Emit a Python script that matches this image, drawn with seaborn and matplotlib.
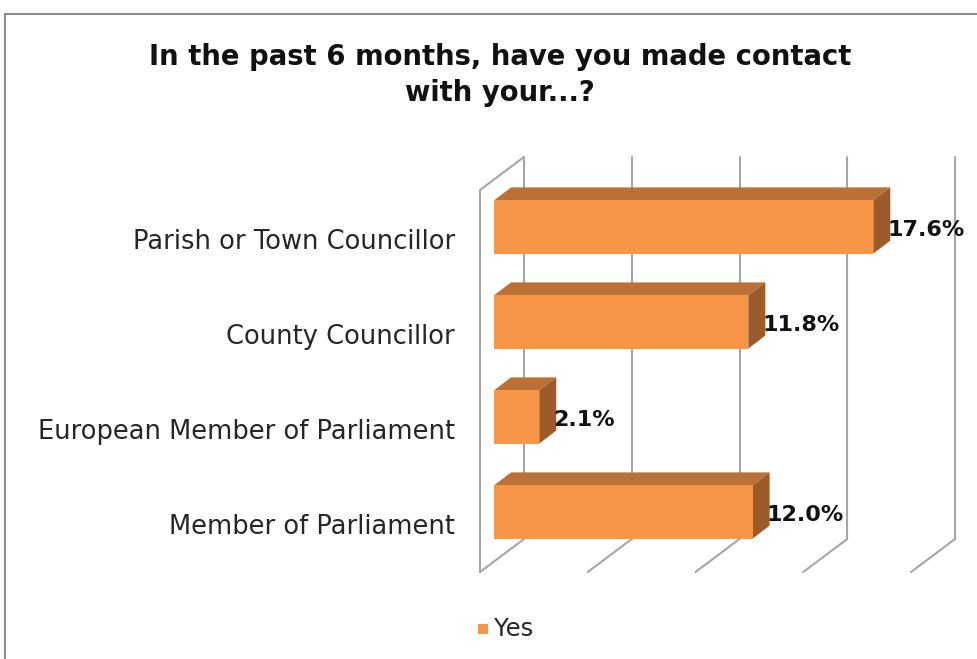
import numpy as np
import pandas as pd
import matplotlib
matplotlib.use("Agg")
import matplotlib.pyplot as plt
from matplotlib.patches import Polygon, Rectangle
from matplotlib.transforms import ScaledTranslation
import seaborn as sns

categories = ["Parish or Town Councillor", "County Councillor",
              "European Member of Parliament", "Member of Parliament"]
values = [17.6, 11.8, 2.1, 12.0]
series_name = "Yes"
title = "In the past 6 months, have you made contact\nwith your...?"
grid_ticks = [0, 5, 10, 15, 20]

sns.set_theme(style="white")
plt.rcParams['font.family'] = ['DejaVu Sans']

W, H, DPI = 977, 659, 100
fig = plt.figure(figsize=(W / DPI, H / DPI), dpi=DPI)

# axes placement (pixels, image coords)
x0_px, px_per_unit = 494, 21.55
yc0_px, step_px = 227, 95
ax_w = px_per_unit * 20
ax_top = yc0_px - step_px / 2
ax_bot = yc0_px + step_px * 3.5
ax = fig.add_axes([x0_px / W, 1 - ax_bot / H, ax_w / W, (ax_bot - ax_top) / H])

def px2d(px, py):
    return (px - x0_px) / px_per_unit, (py - yc0_px) / step_px

FRONT = "#F79646"
TOP = "#BB7035"
SIDE = "#9C5B2B"
GRID = "#A6A6A6"

df = pd.DataFrame({"category": categories, "value": values})
sns.barplot(data=df, x="value", y="category", orient="h", color=FRONT,
            width=0.56, saturation=1, ax=ax, zorder=3, linewidth=0)
ax.set_xlim(0, 20)
ax.set_ylim(3.5, -0.5)

# walls and gridlines (3-D look)
ddx, ddy = 44, -33            # wall depth in pixels
fx0, fy_bot, fy_top = 480, 572, 190
wall_kw = dict(color=GRID, lw=1.5, clip_on=False, zorder=1)
for t in grid_ticks:
    fx = fx0 + t * px_per_unit
    bx, by0 = fx + ddx, fy_bot + ddy
    a = px2d(fx, fy_bot); b = px2d(bx, by0)
    ax.plot([a[0], b[0]], [a[1], b[1]], **wall_kw)
    c = px2d(bx, fy_top + ddy)
    ax.plot([b[0], c[0]], [b[1], c[1]], **wall_kw)
# left side wall
p1 = px2d(fx0, fy_bot); p2 = px2d(fx0, fy_top); p3 = px2d(fx0 + ddx, fy_top + ddy)
ax.plot([p1[0], p2[0], p3[0]], [p1[1], p2[1], p3[1]], **wall_kw)

# 3-D bar top and side faces
bdx, bdy = 17 / px_per_unit, -13 / step_px
for p in ax.patches:
    x, y, w, h = p.get_x(), p.get_y(), p.get_width(), p.get_height()
    ytop, ybot = y, y + h
    top = Polygon([(x, ytop), (x + w, ytop), (x + w + bdx, ytop + bdy), (x + bdx, ytop + bdy)],
                  closed=True, facecolor=TOP, edgecolor="none", zorder=2, clip_on=False)
    side = Polygon([(x + w, ytop), (x + w + bdx, ytop + bdy), (x + w + bdx, ybot + bdy), (x + w, ybot)],
                   closed=True, facecolor=SIDE, edgecolor="none", zorder=2, clip_on=False)
    ax.add_patch(top); ax.add_patch(side)
    p.set_clip_on(False)

# value labels
for i, v in enumerate(values):
    ax.text(v + 14 / px_per_unit, i + 3 / step_px, f"{v:.1f}%", ha="left", va="center",
            fontsize=16, fontweight="bold", color="#111111", zorder=5, clip_on=False)

# category labels
ax.set_ylabel(""); ax.set_xlabel("")
ax.set_xticks([])
ax.tick_params(axis="y", length=0, pad=(x0_px - 455) * 72 / DPI, labelsize=18.5, labelcolor="#262626")
for lbl in ax.get_yticklabels():
    lbl.set_transform(lbl.get_transform() + ScaledTranslation(0, -12 / DPI, fig.dpi_scale_trans))
for s in ax.spines.values():
    s.set_visible(False)
ax.set_facecolor("none")

# title
fig.text(500 / W, 1 - 75 / H, title, ha="center", va="center", fontsize=19.8,
         fontweight="bold", color="#111111", linespacing=1.4)

# legend
fig.patches.append(Rectangle((478 / W, 1 - 634 / H), 10 / W, 10 / H, transform=fig.transFigure,
                             facecolor=FRONT, edgecolor="none"))
fig.text(494 / W, 1 - 629 / H, series_name, ha="left", va="center", fontsize=17.5, color="#262626")

# chart frame
fig.patches.append(Rectangle((5 / W, -0.1), 1.2, 1 - 14 / H + 0.1, transform=fig.transFigure,
                             facecolor="none", edgecolor="#8C8C8C", lw=1.5))

fig.savefig("out.png", dpi=DPI)
